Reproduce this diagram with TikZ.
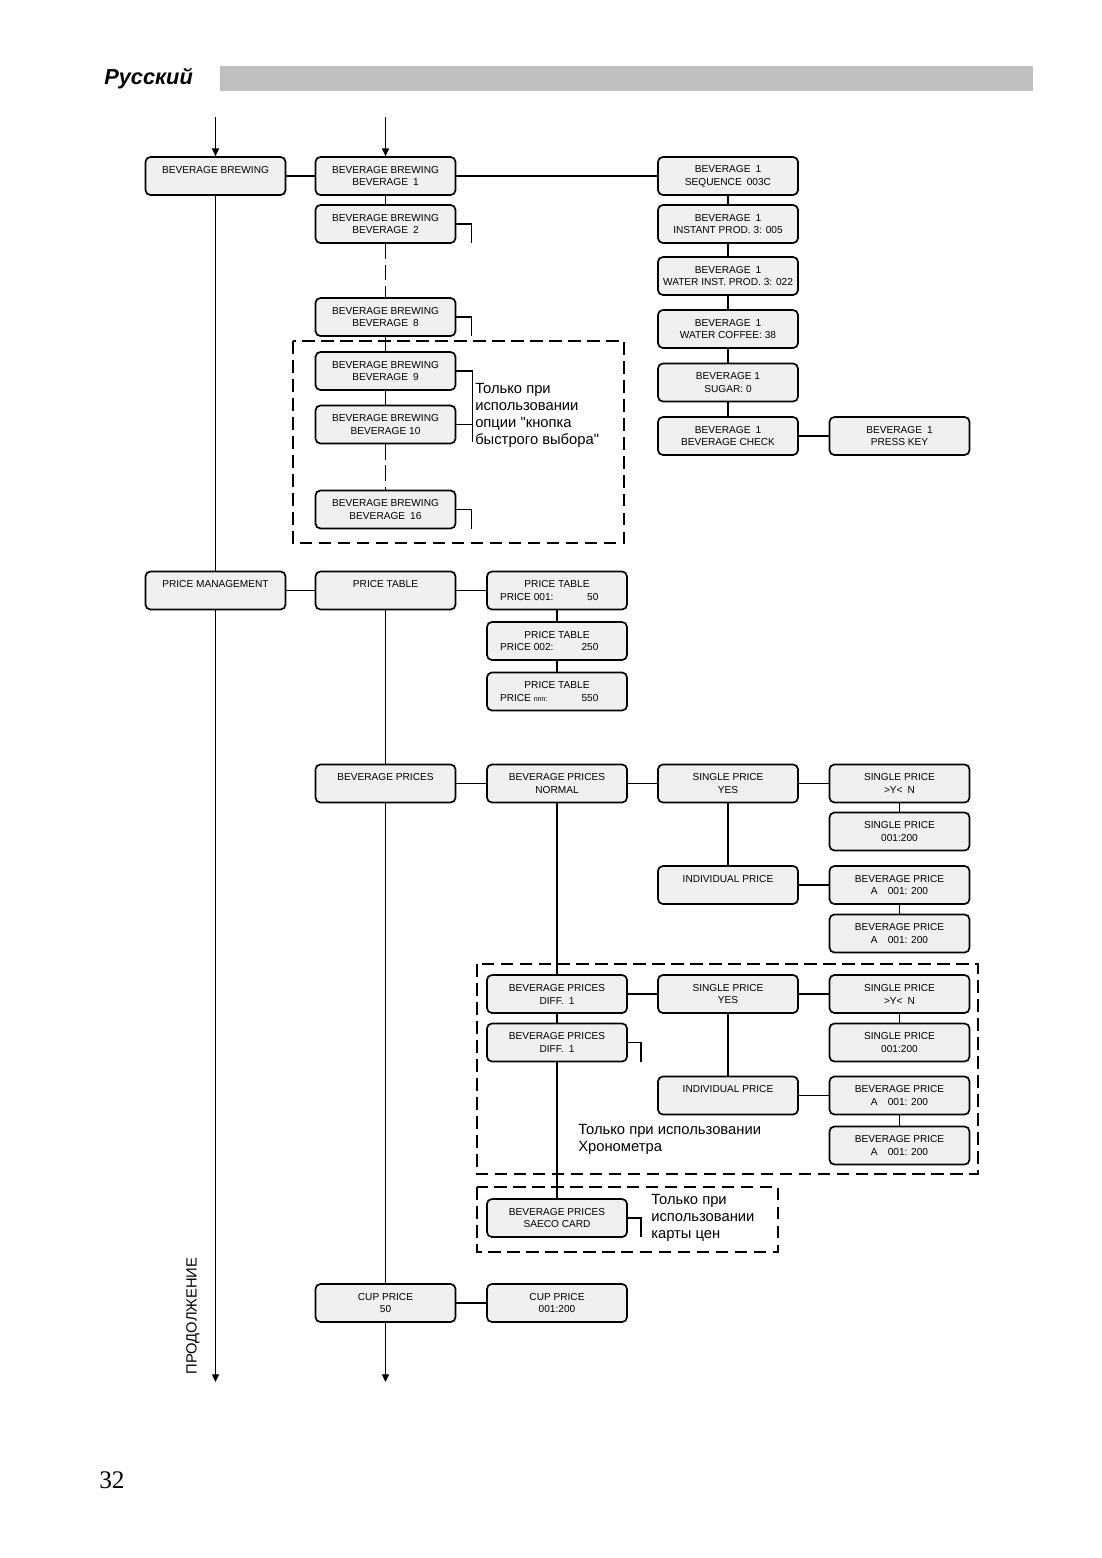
\documentclass[tikz,border=0pt]{standalone}
\usepackage{fontspec}
\setmainfont{Liberation Sans}
\newfontfamily\pagenumfont{Liberation Serif}
\usetikzlibrary{arrows.meta}

\begin{document}
\begin{tikzpicture}[x=0.025cm, y=-0.025cm,
    menu/.style={draw, line width=1.2pt, rounded corners=3.5pt, fill=black!6,
        minimum width=3.5cm, minimum height=0.95cm, inner sep=1pt, align=center,
        font=\fontsize{7.2}{9.2}\selectfont},
    link/.style={line width=0.95pt},
    gap/.style={line width=1.2pt, dash pattern=on 11pt off 4pt},
    group/.style={line width=0.8pt, dash pattern=on 9pt off 4.5pt},
    note/.style={inner sep=0pt, anchor=north west, align=left,
        font=\fontsize{10.5}{12.1}\selectfont},
    down/.style={line width=0.95pt, -{Triangle[length=5.5pt,width=5pt]}}]
    \useasboundingbox (0,0) rectangle (1102,1558);

    % header
    \node[anchor=west, inner sep=0pt, font=\fontsize{15.5}{18}\selectfont\bfseries\itshape] (lang) at (104,79) {Русский};
    \fill[black!25] (220,66) rectangle (1033,91);

    % beverage brewing
    \node[menu] (bb) at (215.5,176) {BEVERAGE BREWING\\\mbox{}};
    \node[menu] (bbone) at (385.5,176) {BEVERAGE BREWING\\BEVERAGE\enspace 1};
    \node[menu] (bbtwo) at (385.5,224) {BEVERAGE BREWING\\BEVERAGE\enspace 2};
    \node[menu] (bbeight) at (385.5,317) {BEVERAGE BREWING\\BEVERAGE\enspace 8};
    \node[menu] (bbnine) at (385.5,371) {BEVERAGE BREWING\\BEVERAGE\enspace 9};
    \node[menu] (bbten) at (385.5,424.5) {BEVERAGE BREWING\\BEVERAGE 10};
    \node[menu] (bbsixteen) at (385.5,509.5) {BEVERAGE BREWING\\BEVERAGE\enspace 16};

    \node[menu] (seq) at (728,176) {BEVERAGE\enspace 1\\SEQUENCE\enspace 003C};
    \node[menu] (inst) at (728,224) {BEVERAGE\enspace 1\\INSTANT PROD. 3: 005};
    \node[menu] (winst) at (728,276) {BEVERAGE\enspace 1\\WATER INST. PROD. 3: 022};
    \node[menu] (wcof) at (728,329) {BEVERAGE\enspace 1\\WATER COFFEE: 38};
    \node[menu] (sugar) at (728,382.5) {BEVERAGE 1\\SUGAR: 0};
    \node[menu] (check) at (728,436) {BEVERAGE\enspace 1\\BEVERAGE CHECK};
    \node[menu] (press) at (899.5,436) {BEVERAGE\enspace 1\\PRESS KEY};

    \draw[group] (293,341) rectangle (624,543);
    \node[note] (quick) at (475,383) {Только при\\использовании\\опции \textquotedbl кнопка\\быстрого выбора\textquotedbl};

    % price management
    \node[menu] (pm) at (215.5,590.5) {PRICE MANAGEMENT\\\mbox{}};
    \node[menu] (pt) at (385.5,590.5) {PRICE TABLE\\\mbox{}};
    \node[menu] (ptone) at (557,590.5) {PRICE TABLE\\\makebox[70pt]{PRICE 001:\hfill 50}\hspace*{11pt}};
    \node[menu] (pttwo) at (557,641) {PRICE TABLE\\\makebox[70pt]{PRICE 002:\hfill 250}\hspace*{11pt}};
    \node[menu] (ptn) at (557,691.5) {PRICE TABLE\\\makebox[70pt]{PRICE {\tiny nnn:}\hfill 550}\hspace*{11pt}};

    % beverage prices
    \node[menu] (bp) at (385.5,783.5) {BEVERAGE PRICES\\\mbox{}};
    \node[menu] (bpn) at (557,783.5) {BEVERAGE PRICES\\NORMAL};
    \node[menu] (spy) at (728,783.5) {SINGLE PRICE\\YES};
    \node[menu] (spn) at (899.5,783.5) {SINGLE PRICE\\>Y<\enspace N};
    \node[menu] (spval) at (899.5,831.5) {SINGLE PRICE\\001:200};
    \node[menu] (ind) at (728,885) {INDIVIDUAL PRICE\\\mbox{}};
    \node[menu] (bpa) at (899.5,885) {BEVERAGE PRICE\\A\enspace\enspace 001: 200};
    \node[menu] (bpb) at (899.5,933.5) {BEVERAGE PRICE\\A\enspace\enspace 001: 200};

    \draw[group] (477,964) rectangle (978,1174);
    \node[menu] (diff) at (557,994) {BEVERAGE PRICES\\DIFF.\enspace 1};
    \node[menu] (diffb) at (557,1042.5) {BEVERAGE PRICES\\DIFF.\enspace 1};
    \node[menu] (dspy) at (728,994) {SINGLE PRICE\\YES};
    \node[menu] (dspn) at (899.5,994) {SINGLE PRICE\\>Y<\enspace N};
    \node[menu] (dspval) at (899.5,1042.5) {SINGLE PRICE\\001:200};
    \node[menu] (dind) at (728,1095.5) {INDIVIDUAL PRICE\\\mbox{}};
    \node[menu] (dbpa) at (899.5,1095.5) {BEVERAGE PRICE\\A\enspace\enspace 001: 200};
    \node[menu] (dbpb) at (899.5,1145.5) {BEVERAGE PRICE\\A\enspace\enspace 001: 200};
    \node[note] (chrono) at (578,1124) {Только при использовании\\Хронометра};

    \draw[group] (477,1187) rectangle (778,1252);
    \node[menu] (saeco) at (557,1218) {BEVERAGE PRICES\\SAECO CARD};
    \node[note] (card) at (651,1194) {Только при\\использовании\\карты цен};

    % cup price
    \node[menu] (cup) at (385.5,1303) {CUP PRICE\\50};
    \node[menu] (cupval) at (557,1303) {CUP PRICE\\001:200};

    \node[rotate=90, inner sep=0pt, font=\fontsize{10.5}{12}\selectfont] (cont) at (193,1316) {ПРОДОЛЖЕНИЕ};
    \node[anchor=west, inner sep=0pt, font=\pagenumfont\fontsize{18}{20}\selectfont] (page) at (99,1480) {32};

    % connectors
    \coordinate (inone) at (215.5,117);
    \coordinate (intwo) at (385.5,117);
    \coordinate (outone) at (215.5,1382);
    \coordinate (outtwo) at (385.5,1382);
    \draw[down] (inone) -- (bb.north);
    \draw[down] (intwo) -- (bbone.north);
    \draw[link] (bb) -- (bbone);
    \draw[link] (bbone) -- (seq);
    \draw[link] (bbone) -- (bbtwo);
    \draw[gap] (bbtwo) -- (bbeight);
    \draw[link] (bbeight) -- (bbnine);
    \draw[link] (bbnine) -- (bbten);
    \draw[gap] (bbten) -- (bbsixteen);
    \draw[link] (bbtwo.east) -- ++(15,0) -- ++(0,19);
    \draw[link] (bbeight.east) -- ++(15,0) -- ++(0,19);
    \draw[link] (bbsixteen.east) -- ++(15,0) -- ++(0,19);
    \draw[link] (bbnine.east) -- ++(16,0) coordinate (brk) -- ++(0,71);
    \draw[link] (bbten.east) -- (bbten.east -| brk);
    \draw[link] (seq) -- (inst);
    \draw[link] (inst) -- (winst);
    \draw[link] (winst) -- (wcof);
    \draw[link] (wcof) -- (sugar);
    \draw[link] (sugar) -- (check);
    \draw[link] (check) -- (press);

    \draw[link] (bb) -- (pm);
    \draw[down] (pm.south) -- (outone);
    \draw[link] (pm) -- (pt);
    \draw[link] (pt) -- (ptone);
    \draw[link] (ptone) -- (pttwo);
    \draw[link] (pttwo) -- (ptn);
    \draw[link] (pt) -- (bp);
    \draw[link] (bp) -- (cup);
    \draw[down] (cup.south) -- (outtwo);

    \draw[link] (bp) -- (bpn);
    \draw[link] (bpn) -- (spy);
    \draw[link] (spy) -- (spn);
    \draw[link] (spn) -- (spval);
    \draw[link] (spy) -- (ind);
    \draw[link] (ind) -- (bpa);
    \draw[link] (bpa) -- (bpb);

    \draw[link] (bpn) -- (diff);
    \draw[link] (diff) -- (diffb);
    \draw[link] (diff) -- (dspy);
    \draw[link] (dspy) -- (dspn);
    \draw[link] (dspn) -- (dspval);
    \draw[link] (dspy) -- (dind);
    \draw[link] (dind) -- (dbpa);
    \draw[link] (dbpa) -- (dbpb);
    \draw[link] (diffb.east) -- ++(13,0) -- ++(0,19);
    \draw[link] (diffb) -- (saeco);
    \draw[link] (saeco.east) -- ++(13,0) -- ++(0,19);

    \draw[link] (cup) -- (cupval);
\end{tikzpicture}
\end{document}
